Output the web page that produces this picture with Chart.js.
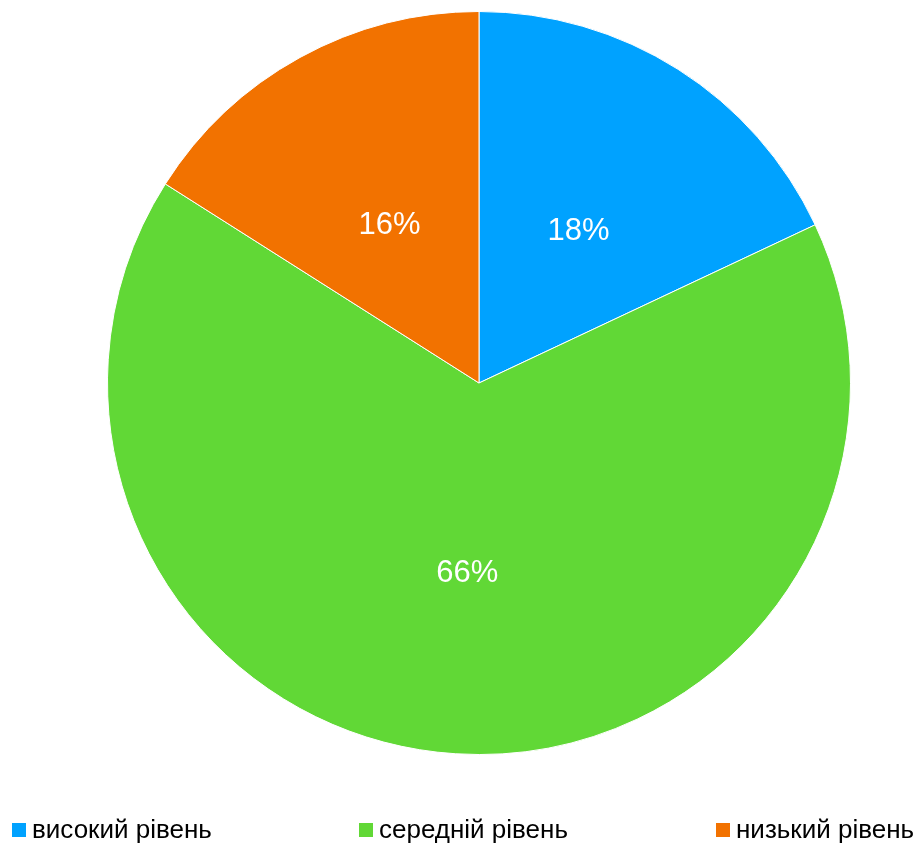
<!DOCTYPE html>
<html>
<head>
<meta charset="utf-8">
<script src="https://cdn.jsdelivr.net/npm/chart.js@4/dist/chart.umd.min.js"></script>
<style>
  html, body { margin: 0; padding: 0; background: #fff; }
  #wrap { width: 921px; height: 844px; position: relative; }
</style>
</head>
<body>
<div id="wrap"><canvas id="c"></canvas></div>
<script>
const categories = ['високий рівень', 'середній рівень', 'низький рівень'];
const shares = [18, 66, 16];
const colors = ['#00A2FF', '#61D836', '#F27200'];
const legendX = [12, 359, 716];

// Percentage labels at the middle of each slice
const sliceLabels = {
  id: 'sliceLabels',
  afterDatasetsDraw(chart) {
    const ctx = chart.ctx;
    const meta = chart.getDatasetMeta(0);
    ctx.save();
    ctx.font = '31px "Liberation Sans", Arial, sans-serif';
    ctx.fillStyle = '#ffffff';
    ctx.textAlign = 'center';
    ctx.textBaseline = 'middle';
    meta.data.forEach((arc, i) => {
      const p = arc.tooltipPosition();
      ctx.fillText(shares[i] + '%', p.x, p.y + 5);
    });
    ctx.restore();
  }
};

// Legend row along the bottom edge
const bottomLegend = {
  id: 'bottomLegend',
  afterDraw(chart) {
    const ctx = chart.ctx;
    const y = 830;
    ctx.save();
    ctx.font = '26px "Liberation Sans", Arial, sans-serif';
    ctx.textBaseline = 'middle';
    ctx.textAlign = 'left';
    categories.forEach((name, i) => {
      const x = legendX[i];
      ctx.fillStyle = colors[i];
      ctx.fillRect(x, y - 7, 14, 14);
      ctx.fillStyle = '#000000';
      ctx.fillText(name, x + 20, y + 1);
    });
    ctx.restore();
  }
};

new Chart(document.getElementById('c'), {
  type: 'pie',
  data: {
    labels: categories,
    datasets: [{
      data: shares,
      backgroundColor: colors,
      borderColor: '#ffffff',
      borderWidth: 1
    }]
  },
  options: {
    responsive: true,
    maintainAspectRatio: false,
    animation: false,
    layout: { padding: { top: 11, bottom: 89, left: 37, right: 0 } },
    plugins: {
      legend: { display: false },
      tooltip: { enabled: false }
    }
  },
  plugins: [sliceLabels, bottomLegend]
});
</script>
</body>
</html>
